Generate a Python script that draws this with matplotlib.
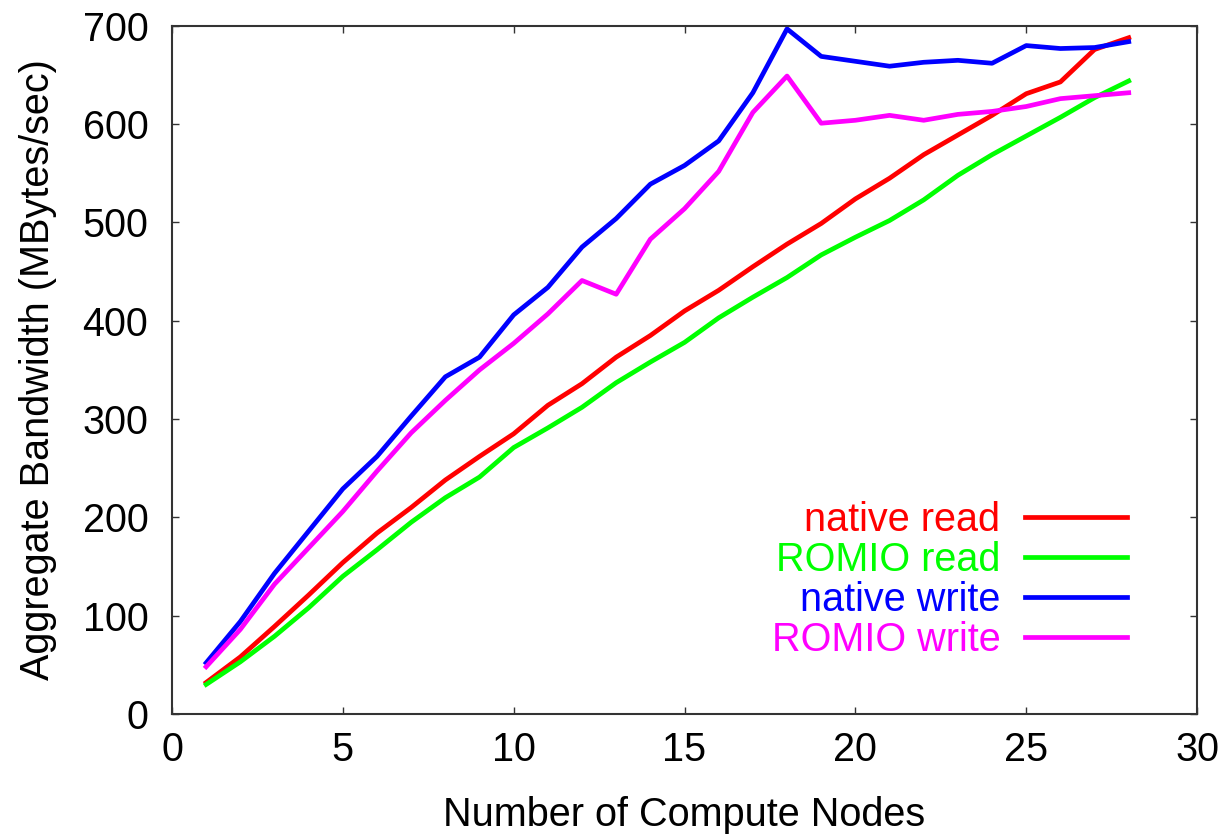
import numpy as np
import matplotlib
matplotlib.use('Agg')
import matplotlib.pyplot as plt

plt.rcParams['font.family'] = ['Liberation Sans', 'DejaVu Sans']

# Data
nodes = list(range(1, 29))
native_read = [32, 58, 89, 121, 154, 184, 210, 238, 262, 285, 314, 336, 363, 385,
               410, 431, 455, 478, 499, 524, 545, 569, 589, 609, 631, 643, 676, 688]
romio_read = [30, 53, 79, 108, 140, 167, 195, 220, 241, 271, 291, 312, 337, 358,
              378, 403, 424, 444, 467, 485, 502, 523, 548, 569, 588, 607, 627, 644]
native_write = [52, 94, 143, 186, 229, 262, 303, 343, 363, 406, 434, 475, 504, 539,
                558, 583, 632, 697, 669, 664, 659, 663, 665, 662, 680, 677, 678, 684]
romio_write = [48, 86, 132, 169, 206, 247, 286, 319, 350, 377, 407, 441, 427, 483,
               514, 552, 612, 649, 601, 604, 609, 604, 610, 613, 618, 626, 629, 632]

series = [
    ('native read', native_read, '#ff0000'),
    ('ROMIO read', romio_read, '#00ff00'),
    ('native write', native_write, '#0000ff'),
    ('ROMIO write', romio_write, '#ff00ff'),
]

fs = 28.5

fig = plt.figure(figsize=(12.24, 8.36), dpi=100)
ax = fig.add_axes([0.1405, 0.146, 0.8375, 0.823])

for label, vals, col in series:
    ax.plot(nodes, vals, color=col, lw=3.4, label=label)

ax.set_xlim(0, 30)
ax.set_ylim(0, 700)
ax.set_xticks(np.arange(0, 31, 5))
ax.set_yticks(np.arange(0, 701, 100))

axis_col = '#333333'
for s in ax.spines.values():
    s.set_color(axis_col)
    s.set_linewidth(1.5)
ax.tick_params(axis='both', direction='in', length=5, width=1, color=axis_col,
               labelsize=fs, top=True, right=True)
ax.tick_params(axis='x', pad=12)
ax.tick_params(axis='y', pad=17)

ax.set_xlabel('Number of Compute Nodes', fontsize=fs, labelpad=20)
ax.set_ylabel('Aggregate Bandwidth (MBytes/sec)', fontsize=fs, labelpad=18.5)

leg = ax.legend(loc='lower right', bbox_to_anchor=(0.932, 0.08), frameon=False,
                markerfirst=False, fontsize=fs, handlelength=2.58,
                handletextpad=0.63, labelspacing=0.05, borderpad=0,
                borderaxespad=0, labelcolor='linecolor')

fig.savefig('out.png', dpi=100)
